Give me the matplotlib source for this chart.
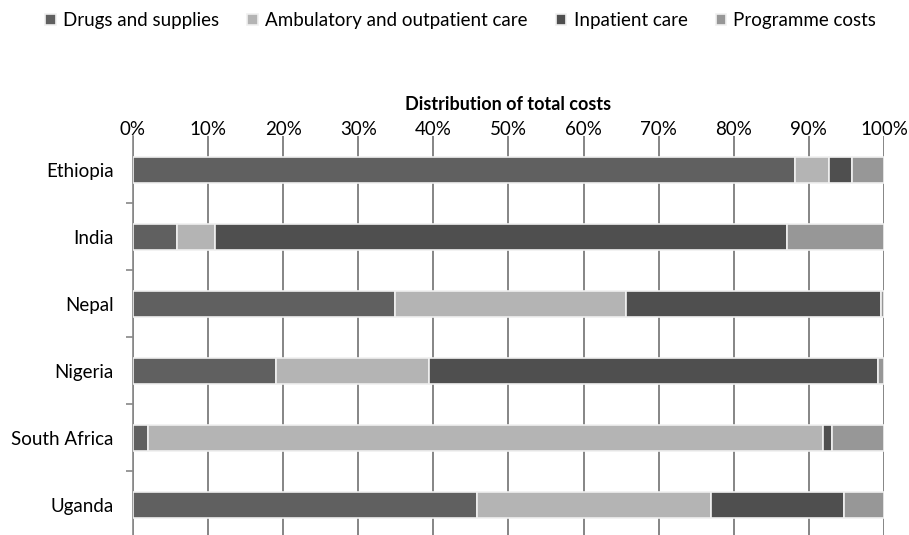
import numpy as np
import matplotlib.pyplot as plt

plt.rcParams['font.family'] = ['Lato', 'DejaVu Sans']

countries = ['Ethiopia', 'India', 'Nepal', 'Nigeria', 'South Africa', 'Uganda']
series_names = ['Drugs and supplies', 'Ambulatory and outpatient care',
                'Inpatient care', 'Programme costs']
drugs = [88.1, 5.9, 34.9, 19.0, 2.0, 45.8]
ambulatory = [4.6, 5.0, 30.7, 20.4, 89.9, 31.2]
inpatient = [3.0, 76.2, 34.0, 59.8, 1.2, 17.7]
programme = [4.3, 12.9, 0.4, 0.8, 6.9, 5.3]
colors = ['#606060', '#b4b4b4', '#4f4f4f', '#979797']

fig = plt.figure(figsize=(9.09, 5.35), dpi=100)
ax = fig.add_axes([0.1463, -0.0065, 0.8262, 0.7514])

y = np.arange(len(countries))
left = np.zeros(len(countries))
for name, vals, c in zip(series_names, [drugs, ambulatory, inpatient, programme], colors):
    vals = np.array(vals)
    ax.barh(y, vals, left=left, height=0.4, color=c, edgecolor='#f0f0f0',
            linewidth=1.2, label=name, zorder=3)
    left += vals

ax.set_xlim(0, 100)
ax.set_ylim(len(countries) - 0.5, -0.5)
ax.set_yticks(y)
ax.set_yticklabels(countries, fontsize=13.5)
ax.set_yticks(np.arange(0.5, len(countries) - 0.5, 1), minor=True)
ax.tick_params(axis='y', which='major', length=0, pad=14)
ax.tick_params(axis='y', which='minor', length=5, color='#888888', width=1.2)

ax.xaxis.tick_top()
ax.xaxis.set_label_position('top')
ax.set_xticks(np.arange(0, 101, 10))
ax.set_xticklabels([f'{v}%' for v in range(0, 101, 10)], fontsize=13.5)
ax.tick_params(axis='x', length=0, pad=-1)
ax.set_xlabel('Distribution of total costs', fontsize=13, fontweight='bold', labelpad=8)
ax.grid(axis='x', color='#858585', linewidth=1.4, zorder=0)

for s in ['top', 'right', 'bottom']:
    ax.spines[s].set_visible(False)
ax.spines['left'].set_color('#888888')
ax.spines['left'].set_linewidth(1.2)

fig.legend(loc='center', bbox_to_anchor=(0.507, 0.962), ncol=4, frameon=False,
           fontsize=13.5, handlelength=0.55, handleheight=0.55, handletextpad=0.4,
           columnspacing=1.5)

plt.savefig('out.png', dpi=100)
